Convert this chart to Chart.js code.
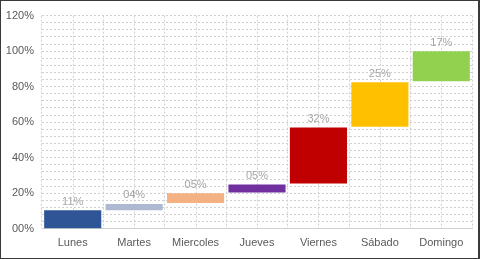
<!DOCTYPE html>
<html>
<head>
<meta charset="utf-8">
<script src="https://cdn.jsdelivr.net/npm/chart.js@4/dist/chart.umd.min.js"></script>
<style>
  html, body { margin: 0; padding: 0; background: #fff; }
  #wrap { width: 480px; height: 259px; box-sizing: border-box; border: 1px solid #3a3a3a; border-right-width: 2px; position: relative; }
</style>
</head>
<body>
<div id="wrap"><canvas id="chart"></canvas></div>
<script>
// Days of the week (categories)
const dias = ['Lunes', 'Martes', 'Miercoles', 'Jueves', 'Viernes', 'Sábado', 'Domingo'];
// Where each floating bar starts and ends (percent)
const inicios = [0, 10.5, 14.5, 20.5, 25.5, 57.5, 83];
const finales = [10.5, 14, 20, 25, 57, 82.5, 100];
// Labels written above the bars
const etiquetas = ['11%', '04%', '05%', '05%', '32%', '25%', '17%'];
// Bar colours
const colores = ['#2F5597', '#ADB9D1', '#F4B183', '#7030A0', '#C00000', '#FFC000', '#92D050'];

const fuente = "'Liberation Sans', Arial, sans-serif";
const gris = '#CFCFCF';

// Extra dotted vertical lines in the middle of each category
const centerLines = {
    id: 'centerLines',
    beforeDatasetsDraw(chart) {
        const { ctx, chartArea, scales } = chart;
        ctx.save();
        ctx.strokeStyle = gris;
        ctx.lineWidth = 1;
        ctx.setLineDash([2, 2]);
        dias.forEach((d, i) => {
            const x = Math.round(scales.x.getPixelForValue(i)) + 0.5;
            ctx.beginPath();
            ctx.moveTo(x, chartArea.top);
            ctx.lineTo(x, chartArea.bottom);
            ctx.stroke();
        });
        ctx.restore();
    }
};

// Value labels above each bar
const barLabels = {
    id: 'barLabels',
    afterDatasetsDraw(chart) {
        const { ctx } = chart;
        const meta = chart.getDatasetMeta(0);
        ctx.save();
        ctx.font = '11px ' + fuente;
        ctx.fillStyle = '#A6A6A6';
        ctx.textAlign = 'center';
        ctx.textBaseline = 'bottom';
        meta.data.forEach((bar, i) => {
            ctx.fillText(etiquetas[i], bar.x, bar.y - 3);
        });
        ctx.restore();
    }
};

const ctx = document.getElementById('chart').getContext('2d');
new Chart(ctx, {
    type: 'bar',
    data: {
        labels: dias,
        datasets: [{
            data: dias.map((d, i) => [inicios[i], finales[i]]),
            backgroundColor: colores,
            borderWidth: 0,
            barPercentage: 0.93,
            categoryPercentage: 1
        }]
    },
    options: {
        responsive: true,
        maintainAspectRatio: false,
        animation: false,
        layout: { padding: { left: 0, right: 6, top: 8, bottom: 0 } },
        plugins: {
            legend: { display: false },
            tooltip: { enabled: false }
        },
        scales: {
            x: {
                grid: { color: gris, tickLength: 0, lineWidth: 1 },
                border: { display: true, color: gris, dash: [2, 2] },
                ticks: { color: '#595959', font: { family: fuente, size: 11 }, padding: 8 }
            },
            y: {
                min: 0,
                max: 120,
                afterFit(scale) { scale.width = 41; },
                grid: { color: gris, tickLength: 0 },
                border: { display: false, dash: [2, 2] },
                ticks: {
                    stepSize: 4,
                    autoSkip: false,
                    color: '#595959',
                    font: { family: fuente, size: 11 },
                    padding: 8,
                    callback: v => v % 20 === 0 ? String(v).padStart(2, '0') + '%' : ''
                }
            }
        }
    },
    plugins: [centerLines, barLabels]
});
</script>
</body>
</html>
